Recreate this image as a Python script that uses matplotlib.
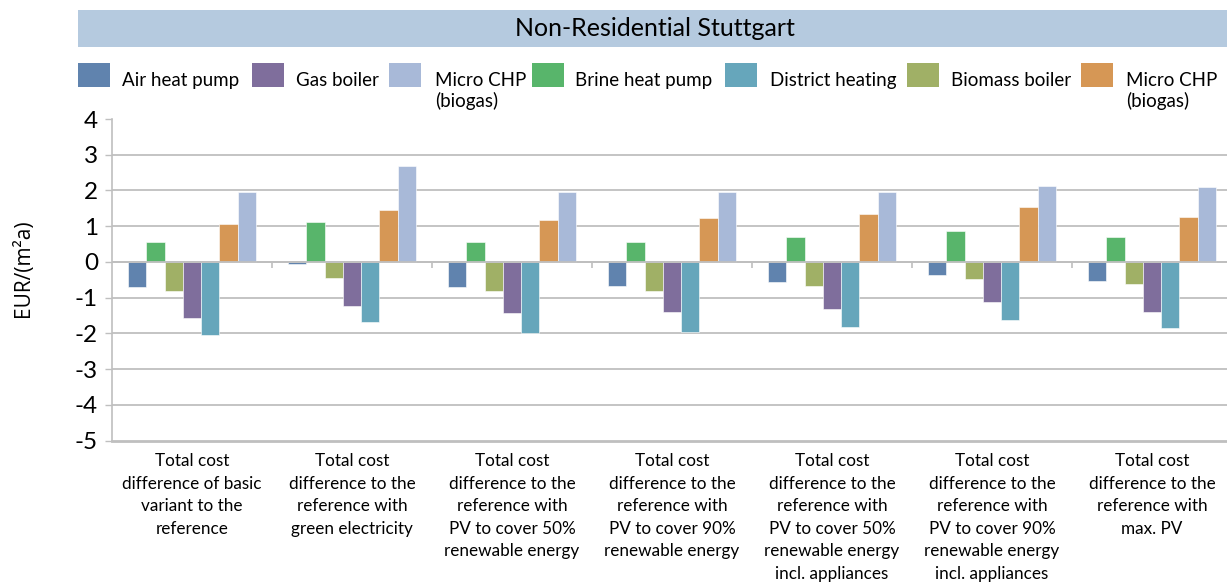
import numpy as np
import matplotlib.pyplot as plt
from matplotlib.patches import Rectangle

plt.rcParams['font.family'] = ['Lato', 'DejaVu Sans']

categories = [
    'Total cost\ndifference of basic\nvariant to the\nreference',
    'Total cost\ndifference to the\nreference with\ngreen electricity',
    'Total cost\ndifference to the\nreference with\nPV to cover 50%\nrenewable energy',
    'Total cost\ndifference to the\nreference with\nPV to cover 90%\nrenewable energy',
    'Total cost\ndifference to the\nreference with\nPV to cover 50%\nrenewable energy\nincl. appliances',
    'Total cost\ndifference to the\nreference with\nPV to cover 90%\nrenewable energy\nincl. appliances',
    'Total cost\ndifference to the\nreference with\nmax. PV',
]

# values in EUR/(m²a)
air_heat_pump = [-0.71, -0.06, -0.71, -0.66, -0.57, -0.37, -0.52]
brine_heat_pump = [0.56, 1.12, 0.56, 0.56, 0.70, 0.88, 0.70]
biomass_boiler = [-0.80, -0.45, -0.80, -0.80, -0.66, -0.47, -0.61]
gas_boiler = [-1.58, -1.22, -1.44, -1.40, -1.31, -1.13, -1.40]
district_heating = [-2.05, -1.67, -2.00, -1.95, -1.81, -1.63, -1.86]
micro_chp_orange = [1.07, 1.45, 1.17, 1.22, 1.35, 1.53, 1.26]
micro_chp_blue = [1.95, 2.69, 1.95, 1.95, 1.95, 2.13, 2.09]

c_air = '#6083ae'
c_gas = '#7f6e9c'
c_chp_blue = '#a8b9d8'
c_brine = '#58b56b'
c_district = '#66a6bb'
c_biomass = '#a0b066'
c_chp_orange = '#d69755'

# bar order inside each group
series = [
    (air_heat_pump, c_air),
    (brine_heat_pump, c_brine),
    (biomass_boiler, c_biomass),
    (gas_boiler, c_gas),
    (district_heating, c_district),
    (micro_chp_orange, c_chp_orange),
    (micro_chp_blue, c_chp_blue),
]

W, H = 1227, 583
fig = plt.figure(figsize=(W / 100, H / 100), dpi=100)
ax = fig.add_axes([112 / W, (H - 440.7) / H, 1120 / W, (440.7 - 119) / H])

x = np.arange(len(categories))
bw = 0.8 / len(series)
for i, (vals, col) in enumerate(series):
    ax.bar(x - 0.4 + bw * (i + 0.5), vals, width=bw, color=col,
           edgecolor='white', linewidth=0.4, zorder=3)

ax.set_xlim(-0.5, len(categories) - 0.5)
ax.set_ylim(-5, 4)
ax.set_yticks(range(-5, 5))
ax.set_yticklabels([str(v) for v in range(-5, 5)], fontsize=17.5)
ax.tick_params(axis='y', length=5, width=1, color='#bfbfbf', pad=5)

ax.set_xticks(x)
ax.set_xticklabels(categories, fontsize=12.3, linespacing=1.5)
ax.tick_params(axis='x', length=0, pad=9)

for v in range(-4, 4):
    ax.axhline(v, color='#bfbfbf', linewidth=1.3, zorder=1)
ax.axhline(0, color='#bfbfbf', linewidth=1.3, zorder=4)
# small tick marks on the zero line between groups
ax.vlines(x[:-1] + 0.5, -0.17, 0, color='#bfbfbf', linewidth=1.2, zorder=4)

for s in ['top', 'right']:
    ax.spines[s].set_visible(False)
ax.spines['left'].set_color('#bfbfbf')
ax.spines['left'].set_linewidth(1.2)
ax.spines['bottom'].set_color('#bfbfbf')
ax.spines['bottom'].set_linewidth(2)

fig.text(24 / W, 1 - 268 / H, 'EUR/(m²a)', rotation=90, ha='center',
         va='center', fontsize=15, family=['Open Sans', 'DejaVu Sans'])

# title banner
fig.add_artist(Rectangle((78 / W, 1 - 47 / H), (W - 78) / W, 37 / H,
                         transform=fig.transFigure, facecolor='#b5cadf',
                         edgecolor='none'))
fig.text(655 / W, 1 - 29 / H, 'Non-Residential Stuttgart', ha='center',
         va='center', fontsize=18)

# legend
legend_names = ['Air heat pump', 'Gas boiler', 'Micro CHP\n(biogas)',
                'Brine heat pump', 'District heating', 'Biomass boiler',
                'Micro CHP\n(biogas)']
legend_colors = [c_air, c_gas, c_chp_blue, c_brine, c_district, c_biomass,
                 c_chp_orange]
square_x = [78, 252, 389, 532, 725, 907, 1081]
text_x = [122, 296, 435, 575, 770, 951, 1126]
for name, col, sx, tx in zip(legend_names, legend_colors, square_x, text_x):
    fig.add_artist(Rectangle((sx / W, 1 - 87 / H), 32 / W, 24 / H,
                             transform=fig.transFigure, facecolor=col,
                             edgecolor='none'))
    fig.text(tx / W, 1 - 72 / H, name, ha='left', va='top',
             fontsize=13.5, linespacing=1.2)

fig.savefig('out.png', dpi=100)
